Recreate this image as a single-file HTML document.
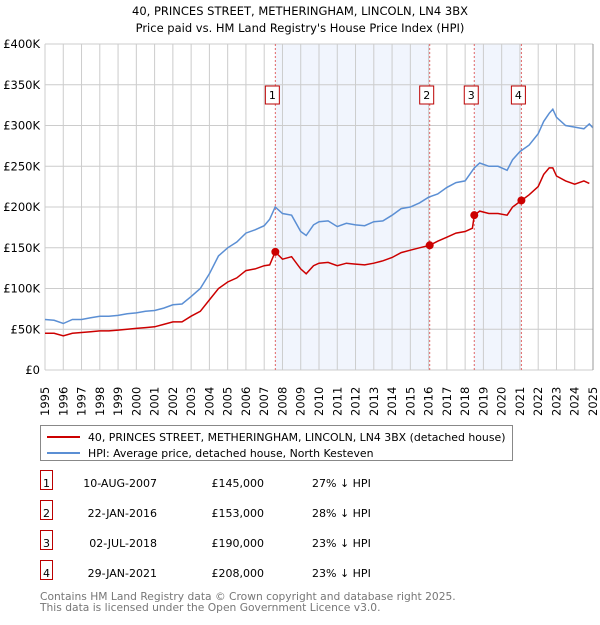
<!DOCTYPE html>
<html><head><meta charset="utf-8"><style>
body{margin:0;background:#fff;font-family:"Liberation Sans","DejaVu Sans",sans-serif;}
svg text{font-family:"DejaVu Sans","Liberation Sans",sans-serif;}
</style></head><body>
<svg id="c" width="600" height="620" xmlns="http://www.w3.org/2000/svg">
<text x="300" y="15" text-anchor="middle" font-size="11.5" fill="#000">40, PRINCES STREET, METHERINGHAM, LINCOLN, LN4 3BX</text>
<text x="300" y="32" text-anchor="middle" font-size="11.5" fill="#000">Price paid vs. HM Land Registry's House Price Index (HPI)</text>
<g id="plot"></g>
<g>
<rect x="40.5" y="425.5" width="472" height="35" fill="#fff" stroke="#888"/>
<line x1="47" y1="437" x2="80" y2="437" stroke="#cc0000" stroke-width="2"/>
<text x="88" y="441" font-size="10.9">40, PRINCES STREET, METHERINGHAM, LINCOLN, LN4 3BX (detached house)</text>
<line x1="47" y1="453" x2="80" y2="453" stroke="#5b8fd4" stroke-width="2"/>
<text x="88" y="457" font-size="10.9">HPI: Average price, detached house, North Kesteven</text>
</g>
<g id="table" font-size="11"></g>
<text x="40" y="600" font-size="10.7" fill="#777">Contains HM Land Registry data © Crown copyright and database right 2025.</text>
<text x="40" y="611" font-size="10.7" fill="#777">This data is licensed under the Open Government Licence v3.0.</text>
</svg>
<script>
const hpiYears=[1995,1995.5,1996,1996.5,1997,1997.5,1998,1998.5,1999,1999.5,2000,2000.5,2001,2001.5,2002,2002.5,2003,2003.5,2004,2004.5,2005,2005.5,2006,2006.5,2007,2007.3,2007.6,2008,2008.5,2009,2009.3,2009.7,2010,2010.5,2011,2011.5,2012,2012.5,2013,2013.5,2014,2014.5,2015,2015.5,2016,2016.5,2017,2017.5,2018,2018.5,2018.8,2019.3,2019.8,2020.3,2020.6,2021,2021.5,2022,2022.3,2022.6,2022.8,2023,2023.5,2024,2024.5,2024.8,2025];
const hpiValues=[62,61,57,62,62,64,66,66,67,69,70,72,73,76,80,81,90,100,118,140,150,157,168,172,177,185,200,192,190,170,165,178,182,183,176,180,178,177,182,183,190,198,200,205,212,216,224,230,232,248,254,250,250,245,258,268,276,290,305,315,320,310,300,298,296,302,297];
const redYears=[1995,1995.5,1996,1996.5,1997,1997.5,1998,1998.5,1999,1999.5,2000,2000.5,2001,2001.5,2002,2002.5,2003,2003.5,2004,2004.5,2005,2005.5,2006,2006.5,2007,2007.3,2007.6,2008,2008.5,2009,2009.3,2009.7,2010,2010.5,2011,2011.5,2012,2012.5,2013,2013.5,2014,2014.5,2015,2015.5,2016.06,2016.5,2017,2017.5,2018,2018.4,2018.5,2018.8,2019.3,2019.8,2020.3,2020.6,2021.08,2021.5,2022,2022.3,2022.6,2022.8,2023,2023.5,2024,2024.5,2024.8,2025];
const redValues=[45,45,42,45,46,47,48,48,49,50,51,52,53,56,59,59,66,72,86,100,108,113,122,124,128,129,145,136,139,124,118,128,131,132,128,131,130,129,131,134,138,144,147,150,153,158,163,168,170,174,190,195,192,192,190,200,208,215,225,240,248,248,238,232,228,232,229];
const saleYears=[2007.61,2016.06,2018.5,2021.08];
const saleValues=[145,153,190,208];
const saleLabels=["1","2","3","4"];
const saleDates=["10-AUG-2007","22-JAN-2016","02-JUL-2018","29-JAN-2021"];
const salePrices=["£145,000","£153,000","£190,000","£208,000"];
const saleDiffs=["27% ↓ HPI","28% ↓ HPI","23% ↓ HPI","23% ↓ HPI"];
const yTicks=[0,50,100,150,200,250,300,350,400];
const yTickLabels=["£0","£50K","£100K","£150K","£200K","£250K","£300K","£350K","£400K"];
const xTicks=[1995,1996,1997,1998,1999,2000,2001,2002,2003,2004,2005,2006,2007,2008,2009,2010,2011,2012,2013,2014,2015,2016,2017,2018,2019,2020,2021,2022,2023,2024,2025];

const NS="http://www.w3.org/2000/svg";
const L=45,R=593,T=44,B=370;
const X=y=>L+(y-1995)/30*(R-L);
const Y=v=>B-v/400*(B-T);
const plot=document.getElementById('plot');
function mk(tag,attrs,parent){const e=document.createElementNS(NS,tag);for(const k in attrs)e.setAttribute(k,attrs[k]);(parent||plot).appendChild(e);return e;}
for(const [a,b] of [[0,1],[2,3]]){
 const r=mk('rect',{x:X(saleYears[a]),y:T,width:X(saleYears[b])-X(saleYears[a]),height:B-T,fill:'#eef3fd',opacity:0.8});
 
 
}
xTicks.forEach(t=>{
 const g=mk('line',{x1:X(t),x2:X(t),y1:T,y2:B,stroke:'#ccc','stroke-width':1});
 
 
 const tx=mk('text',{transform:`translate(${X(t)+4},${B+46}) rotate(-90)`,'font-size':11.5,fill:'#000'});
 tx.textContent=t;
 
 
});
yTicks.forEach((t,i)=>{
 const g=mk('line',{x1:L,x2:R,y1:Y(t),y2:Y(t),stroke:'#ccc','stroke-width':1});
 
 
 const tx=mk('text',{x:L-5,y:Y(t)+4,'text-anchor':'end','font-size':11.5,fill:'#000'});
 tx.textContent=yTickLabels[i];
 
 
});
saleYears.forEach((s,i)=>{
 const l=mk('line',{x1:X(s),x2:X(s),y1:T,y2:B,stroke:'#e06666','stroke-width':1,'stroke-dasharray':'2,2'});
 
 
 const r=mk('rect',{x:X(s)-10,y:86,width:14,height:18,fill:'#fff',stroke:'#b00','stroke-width':1});
 
 
 const t=mk('text',{x:X(s)-3,y:99,'text-anchor':'middle','font-size':11});
 t.textContent=saleLabels[i];
 
 
});
function path(xs,vs){return xs.map((x,i)=>(i?'L':'M')+X(x).toFixed(1)+','+Y(vs[i]).toFixed(1)).join('');}
const hp=mk('path',{d:path(hpiYears,hpiValues),fill:'none',stroke:'#5b8fd4','stroke-width':1.5});


const rp=mk('path',{d:path(redYears,redValues),fill:'none',stroke:'#cc0000','stroke-width':1.5});


saleYears.forEach((s,i)=>{
 const c=mk('circle',{cx:X(s),cy:Y(saleValues[i]),r:4,fill:'#cc0000'});
 
 
});
const ax=mk('line',{x1:R,x2:R,y1:T,y2:B,stroke:'#999'});


const tb=document.getElementById('table');
saleYears.forEach((s,i)=>{
 const y=483+i*30;
 const r=mk('rect',{x:40.5,y:y-12.5,width:12,height:19,fill:'#fff',stroke:'#b00'},tb);
 
 
 const cells=[[46.5,saleLabels[i],'middle'],[157,saleDates[i],'end'],[264,salePrices[i],'end'],[312,saleDiffs[i],'start']];
 cells.forEach(([x,txt,a])=>{
  const t=mk('text',{x:x,y:y+4,'text-anchor':a},tb);
  t.textContent=txt;
  
  
 });
});
</script>
</body></html>
